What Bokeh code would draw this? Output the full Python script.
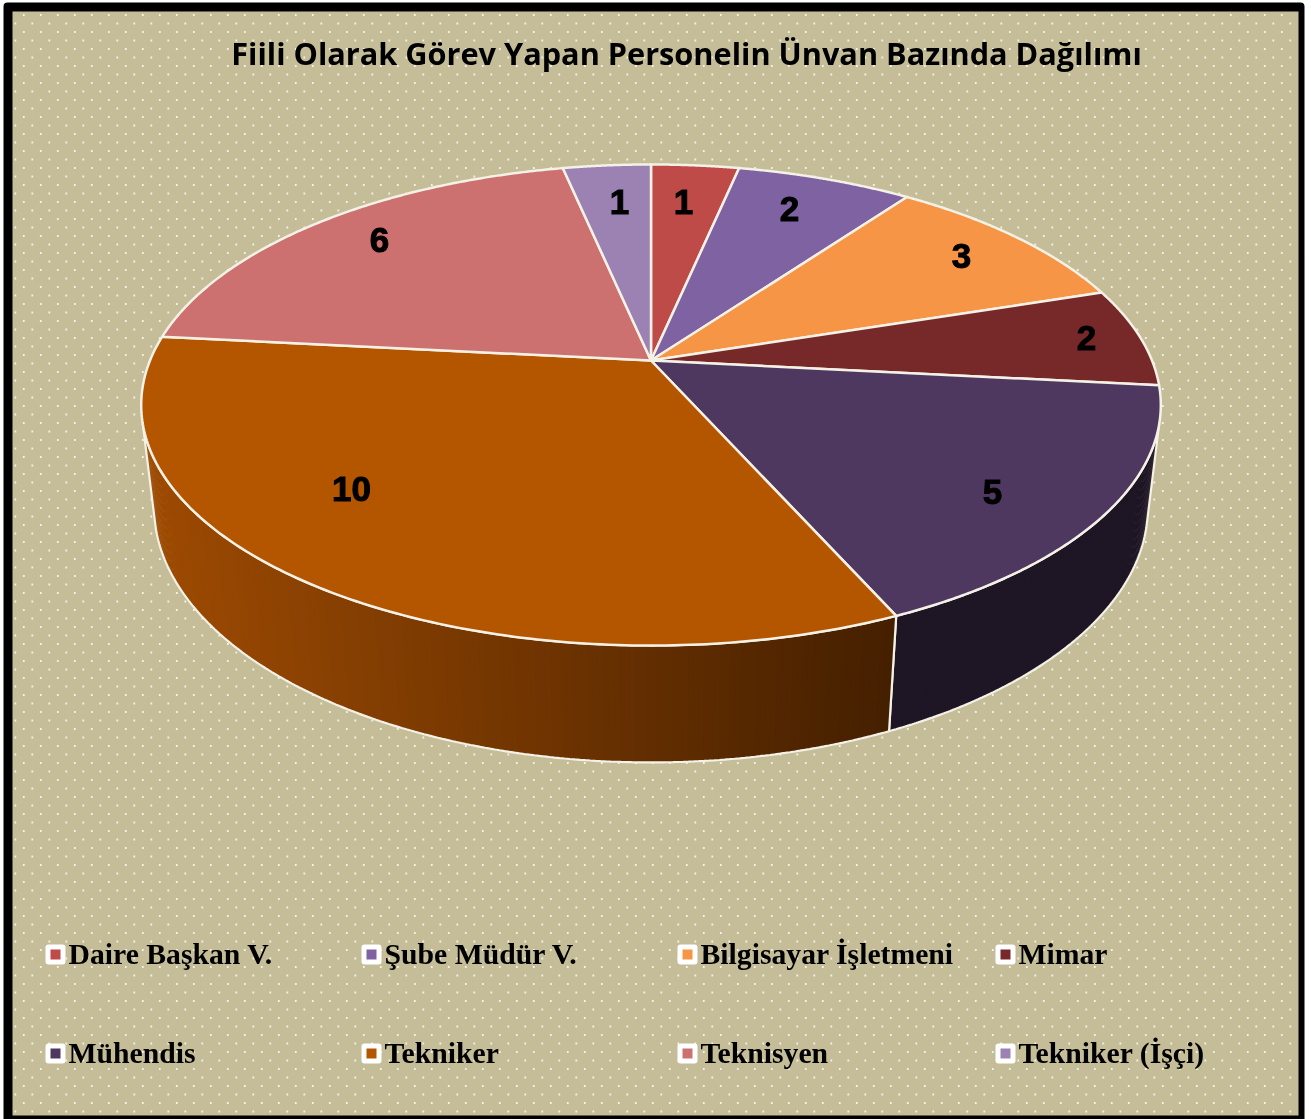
import numpy as np
from bokeh.plotting import figure
from bokeh.models import Range1d
from bokeh.core.properties import value
from bokeh.embed import file_html
from bokeh.resources import INLINE

# ---- data
title_text = "Fiili Olarak Görev Yapan Personelin Ünvan Bazında Dağılımı"
categories = ["Daire Başkan V.", "Şube Müdür V.", "Bilgisayar İşletmeni", "Mimar",
              "Mühendis", "Tekniker", "Teknisyen", "Tekniker (İşçi)"]
counts = [1, 2, 3, 2, 5, 10, 6, 1]
colors = ["#BE4B48", "#7F62A1", "#F59545", "#772828", "#4E3860", "#B45500", "#CC7070", "#9B82B3"]

# ---- layout / style
BG = "#C4BD97"
SIDE_STYLE = {4: ("#1E1525", "#1E1525"), 5: ("#452000", "#9E4B03")}   # side shade (right, left)
SIDE_FROM, SIDE_TO = 105.0, 255.0   # visible silhouette in degrees
label_xy = [(683, 201), (789, 208), (961, 255), (1086, 337), (992, 491), (351, 488), (379, 239), (619, 201)]
legend_x = [55, 371, 687, 1005]
legend_y = [954, 1053]

CX, A, K = 650.5, 501.0, 0.185
TOP_A, TOP_B = 360.0, -165.7
LOW_A, LOW_B, LOW_M = 472.0, -168.0, 0.025
EDGE = "#F4F1E6"


def top(t):
    t = np.radians(t)
    X, Y = np.sin(t), np.cos(t)
    w = 1 + K * Y
    return CX + A * X / w, (TOP_A + TOP_B * Y) / w


def low(t):
    t = np.radians(t)
    X, Y = np.sin(t), np.cos(t)
    w = 1 + K * Y + LOW_M
    return CX + A * X / w, (LOW_A + LOW_B * Y) / w


def rgb(h):
    return np.array([int(h[i:i + 2], 16) for i in (1, 3, 5)], dtype=float)


p = figure(width=1311, height=1119, output_backend="svg", toolbar_location=None,
           x_range=Range1d(0, 1311), y_range=Range1d(1119, 0), min_border=0,
           background_fill_color="white", border_fill_color="white", outline_line_color=None)
p.axis.visible = False
p.grid.visible = False
p.styles = {"position": "fixed", "left": "0px", "top": "0px"}

# frame and panel
p.quad(left=[3], right=[1304], top=[2], bottom=[1125], fill_color="black", line_color=None, border_radius=4)
p.quad(left=[12], right=[1298], top=[11], bottom=[1115], fill_color=BG, line_color=None)

# dotted fill as a single path
dx, dy = [], []
for r, y in enumerate(np.arange(14.5, 1115, 8.5)):
    for x in np.arange(23.3 + (8.5 if r % 2 else 0) - 17, 1298, 17):
        if x < 13:
            continue
        dx += [x - 0.9, x + 0.9, x + 0.9, x - 0.9, np.nan]
        dy += [y - 0.9, y - 0.9, y + 0.9, y + 0.9, np.nan]
p.patch(dx[:-1], dy[:-1], fill_color="white", line_color=None, fill_alpha=0.8)

# slice boundaries from the counts
total = sum(counts)
edges = np.cumsum([0] + counts) / total * 360.0

# side wall
XR, XL = low(np.array([156.0]))[0][0], low(np.array([250.0]))[0][0]
for i, (c0, c1) in SIDE_STYLE.items():
    a, b = max(edges[i], SIDE_FROM), min(edges[i + 1], SIDE_TO)
    n = int(b - a) * 2
    ts = np.linspace(a, b, n + 1)
    xs, ys, cs = [], [], []
    for j in range(n):
        seg = np.linspace(ts[j], min(ts[j + 1] + 0.3, b), 3)
        ux, uy = top(seg)
        lx, ly = low(seg)
        xs.append(list(ux) + list(lx[::-1]))
        ys.append(list(uy) + list(ly[::-1]))
        f = np.clip((XR - lx[1]) / (XR - XL), 0, 1)
        col = rgb(c0) + (rgb(c1) - rgb(c0)) * f
        cs.append("#%02x%02x%02x" % tuple(int(v) for v in col))
    p.patches(xs, ys, fill_color=cs, line_color=None)
    seg = np.linspace(a, b, 200)
    ux, uy = top(seg)
    lx, ly = low(seg)
    p.patch(list(ux) + list(lx[::-1]), list(uy) + list(ly[::-1]), fill_color=None,
            line_color=EDGE, line_width=2.2)

# top face
xs, ys = [], []
for i in range(len(counts)):
    seg = np.linspace(edges[i], edges[i + 1], 160)
    ux, uy = top(seg)
    xs.append([CX] + list(ux))
    ys.append([TOP_A] + list(uy))
p.patches(xs, ys, fill_color=colors, line_color=EDGE, line_width=2.5, line_join="round")

# data labels
p.text([q[0] for q in label_xy], [q[1] for q in label_xy], text=[str(c) for c in counts],
       text_font=value("Liberation Sans"), text_font_style="bold", text_font_size="35px",
       text_color="black", text_align="center", text_baseline="middle",
       text_outline_color="black")

# title
p.text([686], [52], text=[title_text], text_font=value("Open Sans"), text_font_style="bold",
       text_font_size="30.7px", text_color="black", text_align="center", text_baseline="alphabetic")

# legend
lx = [legend_x[i % 4] for i in range(8)]
ly = [legend_y[i // 4] for i in range(8)]
p.rect(lx, ly, width=20, height=20, fill_color="white", line_color=None, border_radius=3)
p.rect(lx, ly, width=10, height=10, fill_color=colors, line_color=None)
p.text([x + 13 for x in lx], [y - 1 for y in ly], text=categories,
       text_font=value("Liberation Serif"), text_font_style="bold", text_font_size="29.7px",
       text_color="black", text_baseline="alphabetic")

open("out.html", "w").write(file_html(p, INLINE))
